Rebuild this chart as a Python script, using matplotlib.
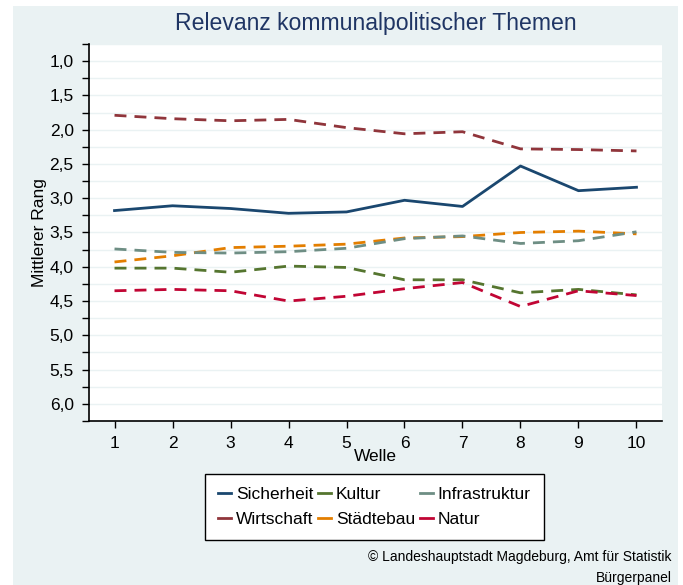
import matplotlib.pyplot as plt
from matplotlib.patches import Rectangle
from matplotlib.ticker import MultipleLocator, FuncFormatter

plt.rcParams["font.family"] = ["Liberation Sans", "DejaVu Sans"]

welle = [1, 2, 3, 4, 5, 6, 7, 8, 9, 10]
sicherheit = [3.18, 3.11, 3.15, 3.22, 3.20, 3.03, 3.12, 2.53, 2.89, 2.84]
wirtschaft = [1.79, 1.84, 1.87, 1.85, 1.97, 2.06, 2.03, 2.28, 2.29, 2.31]
kultur = [4.02, 4.02, 4.08, 3.99, 4.01, 4.19, 4.19, 4.38, 4.33, 4.41]
staedtebau = [3.93, 3.84, 3.72, 3.70, 3.67, 3.58, 3.56, 3.50, 3.48, 3.52]
infrastruktur = [3.74, 3.79, 3.80, 3.78, 3.73, 3.59, 3.55, 3.66, 3.62, 3.49]
natur = [4.35, 4.33, 4.35, 4.50, 4.43, 4.32, 4.23, 4.58, 4.35, 4.42]

BG = "#EAF2F3"
dash = (0, (4.3, 2.9))

fig = plt.figure(figsize=(6.83, 5.85), dpi=100, facecolor="white")
fig.patches.append(Rectangle((13 / 683, 0), 665 / 683, 1 - 6 / 585,
                             transform=fig.transFigure, facecolor=BG,
                             edgecolor="none", zorder=-10))
ax = fig.add_axes([89 / 683, 1 - 421 / 585, 573 / 683, 377 / 585])
ax.set_facecolor("white")

series = [
    ("Sicherheit", sicherheit, "#1A476F", "-"),
    ("Wirtschaft", wirtschaft, "#90353B", dash),
    ("Kultur", kultur, "#55752F", dash),
    ("Städtebau", staedtebau, "#E37E00", dash),
    ("Infrastruktur", infrastruktur, "#6E8E84", dash),
    ("Natur", natur, "#C10534", dash),
]
handles = []
for name, vals, col, ls in series:
    ax.plot(welle, vals, color=col, lw=2.0, linestyle=ls)
    h, = ax.plot([], [], color=col, lw=2.0, label=name)
    handles.append(h)

ax.set_xlim(0.56, 10.44)
ax.set_ylim(6.25, 0.75)
ax.set_xticks(welle)
ax.yaxis.set_major_locator(MultipleLocator(0.5))
ax.yaxis.set_minor_locator(MultipleLocator(0.25))
ax.yaxis.set_major_formatter(FuncFormatter(lambda v, p: f"{v:.1f}".replace(".", ",")))
ax.set_yticks([1.0, 1.5, 2.0, 2.5, 3.0, 3.5, 4.0, 4.5, 5.0, 5.5, 6.0])
ax.grid(True, which="both", axis="y", color=BG, lw=1.0, zorder=0)
ax.set_axisbelow(True)
ax.tick_params(axis="both", which="both", direction="out", length=5, width=1,
               labelsize=12.5, pad=6, colors="black")
for s in ["top", "right"]:
    ax.spines[s].set_visible(False)
for s in ["left", "bottom"]:
    ax.spines[s].set_linewidth(1.2)

ax.set_ylabel("Mittlerer Rang", fontsize=12.5)
ax.yaxis.set_label_coords(-0.073, 0.5)
ax.set_xlabel("Welle", fontsize=12.5)
ax.xaxis.set_label_coords(0.5, -0.074)
ax.set_title("Relevanz kommunalpolitischer Themen", fontsize=16.6,
             color="#1F3564", pad=10)

leg = fig.legend(handles=handles, loc="center",
                 bbox_to_anchor=(374.5 / 683, 1 - 507 / 585), ncol=3,
                 fontsize=12.5, handlelength=0.75, handletextpad=0.25,
                 columnspacing=0.3, fancybox=False, edgecolor="black",
                 framealpha=1, borderpad=0.75, labelspacing=0.55)
leg.get_frame().set_linewidth(1.0)

fig.text(672 / 683, 1 - 557 / 585, "© Landeshauptstadt Magdeburg, Amt für Statistik",
         ha="right", va="center", fontsize=10)
fig.text(672 / 683, 1 - 578 / 585, "Bürgerpanel", ha="right", va="center", fontsize=10)

fig.savefig("out.png", dpi=100, facecolor="white")
